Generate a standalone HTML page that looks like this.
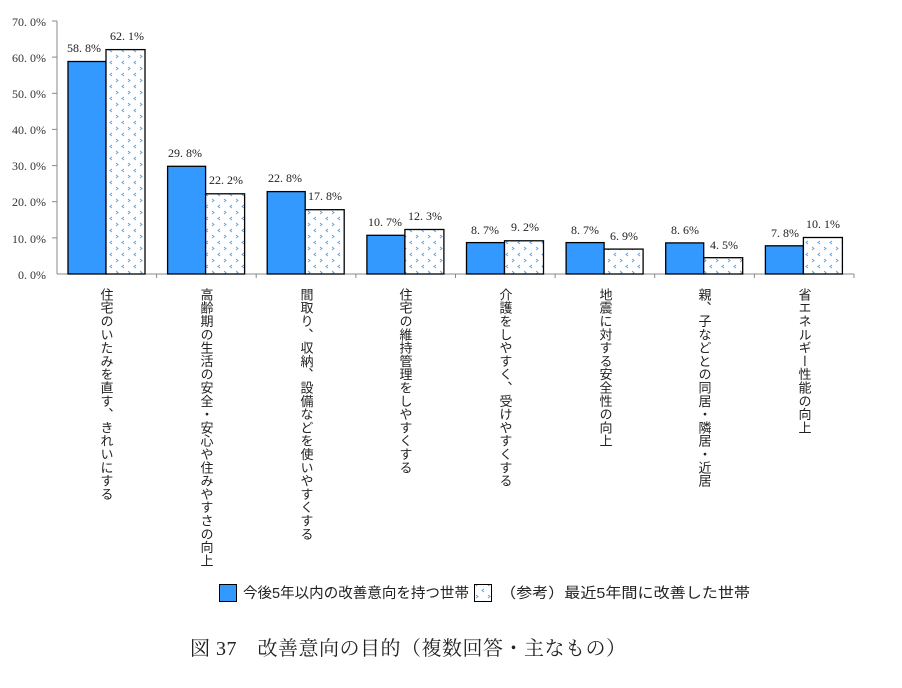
<!DOCTYPE html>
<html><head><meta charset="utf-8"><style>
body{margin:0;background:#fff;width:902px;height:688px;overflow:hidden;font-family:"Liberation Serif","Noto Serif CJK SC",serif}
</style></head><body>
<svg width="902" height="688" xmlns="http://www.w3.org/2000/svg" style="position:absolute;left:0;top:0">
<defs>
<pattern id="p" width="12" height="12" patternUnits="userSpaceOnUse">
<rect width="12" height="12" fill="#fff"/>
<path d="M4 1 L2 2.5 L4 4 M8 7 L10 8.5 L8 10" stroke="#5a9fe6" stroke-width="0.9" fill="none"/>
</pattern>
</defs>
<g font-family="'Liberation Serif','Noto Serif CJK SC',serif" font-size="12" fill="#333">
<line x1="57" y1="21" x2="57" y2="274" stroke="#888"/>
<line x1="57" y1="274" x2="854" y2="274" stroke="#888"/>
<g id="ticks" stroke="#888">
<line x1="52" y1="21" x2="57" y2="21"/><line x1="52" y1="57.1" x2="57" y2="57.1"/><line x1="52" y1="93.3" x2="57" y2="93.3"/><line x1="52" y1="129.4" x2="57" y2="129.4"/><line x1="52" y1="165.6" x2="57" y2="165.6"/><line x1="52" y1="201.7" x2="57" y2="201.7"/><line x1="52" y1="237.9" x2="57" y2="237.9"/>
<line x1="156.6" y1="274" x2="156.6" y2="278"/><line x1="256.2" y1="274" x2="256.2" y2="278"/><line x1="355.9" y1="274" x2="355.9" y2="278"/><line x1="455.5" y1="274" x2="455.5" y2="278"/><line x1="555.1" y1="274" x2="555.1" y2="278"/><line x1="654.7" y1="274" x2="654.7" y2="278"/><line x1="754.4" y1="274" x2="754.4" y2="278"/><line x1="854" y1="274" x2="854" y2="278"/>
</g>
<g text-anchor="end">
<text x="46" y="26">70. 0%</text><text x="46" y="62">60. 0%</text><text x="46" y="98">50. 0%</text><text x="46" y="134">40. 0%</text><text x="46" y="170">30. 0%</text><text x="46" y="206">20. 0%</text><text x="46" y="243">10. 0%</text><text x="46" y="279">0. 0%</text>
</g>
<g stroke="#000" stroke-width="1.3">
<rect x="68" y="61.5" width="38" height="212.5" fill="#3399ff"/><rect x="106" y="49.6" width="39" height="224.4" fill="url(#p)"/>
<rect x="167.6" y="166.3" width="38" height="107.7" fill="#3399ff"/><rect x="205.6" y="193.8" width="39" height="80.2" fill="url(#p)"/>
<rect x="267.2" y="191.6" width="38" height="82.4" fill="#3399ff"/><rect x="305.2" y="209.7" width="39" height="64.3" fill="url(#p)"/>
<rect x="366.9" y="235.3" width="38" height="38.7" fill="#3399ff"/><rect x="404.9" y="229.5" width="39" height="44.5" fill="url(#p)"/>
<rect x="466.5" y="242.6" width="38" height="31.4" fill="#3399ff"/><rect x="504.5" y="240.8" width="39" height="33.2" fill="url(#p)"/>
<rect x="566.1" y="242.6" width="38" height="31.4" fill="#3399ff"/><rect x="604.1" y="249.1" width="39" height="24.9" fill="url(#p)"/>
<rect x="665.7" y="242.9" width="38" height="31.1" fill="#3399ff"/><rect x="703.7" y="257.7" width="39" height="16.3" fill="url(#p)"/>
<rect x="765.4" y="245.8" width="38" height="28.2" fill="#3399ff"/><rect x="803.4" y="237.5" width="39" height="36.5" fill="url(#p)"/>
</g>
<g text-anchor="middle" fill="#222">
<text x="84" y="52">58. 8%</text><text x="127" y="40">62. 1%</text>
<text x="185" y="157">29. 8%</text><text x="226" y="184">22. 2%</text>
<text x="285" y="182">22. 8%</text><text x="325" y="200">17. 8%</text>
<text x="385" y="226">10. 7%</text><text x="425" y="220">12. 3%</text>
<text x="485" y="234">8. 7%</text><text x="525" y="231">9. 2%</text>
<text x="585" y="234">8. 7%</text><text x="624" y="240">6. 9%</text>
<text x="685" y="234">8. 6%</text><text x="724" y="249">4. 5%</text>
<text x="785" y="237">7. 8%</text><text x="823" y="228">10. 1%</text>
</g>
<g font-family="'Liberation Sans','Noto Sans CJK JP',sans-serif" font-size="13" fill="#222" style="writing-mode:vertical-rl" letter-spacing="0.3">
<text x="106" y="288">住宅のいたみを直す、きれいにする</text>
<text x="206" y="288">高齢期の生活の安全・安心や住みやすさの向上</text>
<text x="306" y="288">間取り、収納、設備などを使いやすくする</text>
<text x="405" y="288">住宅の維持管理をしやすくする</text>
<text x="505" y="288">介護をしやすく、受けやすくする</text>
<text x="605" y="288">地震に対する安全性の向上</text>
<text x="704" y="288">親、子などとの同居・隣居・近居</text>
<text x="804" y="288">省エネルギー性能の向上</text>
</g>
<rect x="219.5" y="584.5" width="17" height="17" fill="#3399ff" stroke="#000"/>
<rect x="474.5" y="584.5" width="17" height="17" fill="url(#p)" stroke="#000"/>
<g font-family="'Liberation Sans','Noto Sans CJK JP',sans-serif" font-size="14.5" fill="#222">
<text x="243" y="598" textLength="226" lengthAdjust="spacingAndGlyphs">今後5年以内の改善意向を持つ世帯</text>
<text x="500" y="598" textLength="250" lengthAdjust="spacingAndGlyphs">（参考）最近5年間に改善した世帯</text>
</g>
<text x="190" y="655" font-size="20" fill="#222" textLength="436" font-family="'Liberation Serif','Noto Serif CJK JP',serif">図 37　改善意向の目的（複数回答・主なもの）</text>
</g>
</svg>
</body></html>
